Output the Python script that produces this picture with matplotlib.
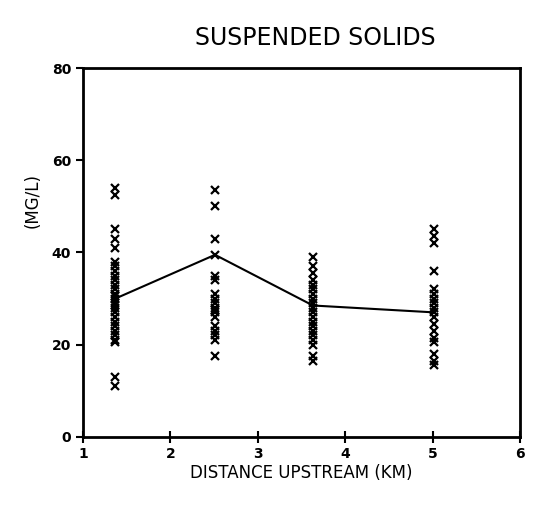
import numpy as np
import matplotlib.pyplot as plt

# station distances (km) and suspended solids readings (mg/L)
stations = [1.37, 2.51, 3.63, 5.02]
site1 = [54, 52.5, 45, 43, 41, 38, 37, 36, 35, 34, 33, 32, 31, 30.5, 30, 29,
         28.5, 28, 27, 26, 25, 24, 23, 22, 21, 20.5, 13, 11]
site2 = [53.5, 50, 43, 39.5, 35, 34, 31, 30, 29, 28, 27.5, 27, 26, 24, 23,
         22, 21, 17.5]
site3 = [39, 37, 35.5, 34, 33, 32, 31, 30, 29, 28, 27, 26, 25, 24, 23, 22,
         21, 20, 17.5, 16.5]
site4 = [45, 43.5, 42, 36, 32, 31, 30, 29, 28, 27, 26, 24.5, 23, 21.5, 20.5,
         18, 16.5, 15.5]
site_means = [30, 39.5, 28.5, 27]

fig = plt.figure(figsize=(5.39, 5.05), dpi=100)
ax = fig.add_axes([0.154, 0.135, 0.811, 0.730])

for xs, vals in zip(stations, [site1, site2, site3, site4]):
    ax.plot([xs] * len(vals), vals, linestyle='none', marker='x',
            color='black', markersize=6, markeredgewidth=1.6)

ax.plot(stations, site_means, color='black', linewidth=1.5)

ax.set_xlim(1, 6)
ax.set_ylim(0, 80)
ax.set_xticks([1, 2, 3, 4, 5, 6])
ax.set_yticks([0, 20, 40, 60, 80])
for s in ax.spines.values():
    s.set_linewidth(2)
ax.tick_params(axis='x', direction='inout', length=8, width=1.5, labelsize=10)
ax.tick_params(axis='y', direction='out', length=5, width=1.5, labelsize=10)
for lab in ax.get_xticklabels() + ax.get_yticklabels():
    lab.set_fontweight('bold')

ax.set_xlabel('DISTANCE UPSTREAM (KM)', fontsize=12, labelpad=2)
ax.set_ylabel('(MG/L)', fontsize=12)
ax.yaxis.set_label_coords(-0.095, 0.64)
fig.text(0.585, 0.925, 'SUSPENDED SOLIDS', ha='center', va='center',
         fontsize=17)

fig.savefig('out.png', dpi=100)
